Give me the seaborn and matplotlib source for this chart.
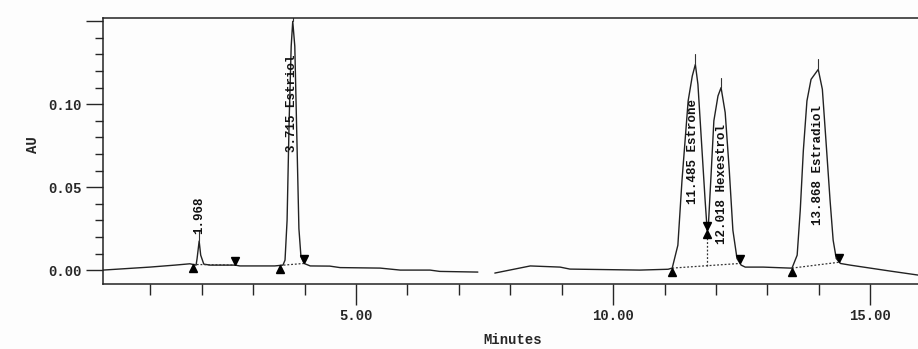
import numpy as np
import pandas as pd
import seaborn as sns
import matplotlib
matplotlib.use("Agg")
import matplotlib.pyplot as plt
from matplotlib.transforms import offset_copy

# trace (minutes, AU); two segments because the trace is broken near 7.5 min
seg1_t = [0.08, 0.99, 1.48, 1.77, 1.89, 1.91, 1.95, 1.98, 2.04, 2.16, 2.65, 2.74, 3.42,
          3.58, 3.62, 3.66, 3.70, 3.74, 3.77, 3.81, 3.85, 3.89, 3.93, 3.99,
          4.11, 4.49, 4.69, 5.47, 5.86, 6.44, 6.63, 7.37]
seg1_au = [0.0, 0.0018, 0.003, 0.0038, 0.003, 0.007, 0.0175, 0.009, 0.0036, 0.003, 0.003, 0.0025, 0.0025,
           0.003, 0.006, 0.03, 0.09, 0.135, 0.150, 0.135, 0.08, 0.025, 0.008, 0.004,
           0.0025, 0.0024, 0.0015, 0.0012, 0.0, 0.0, -0.0008, -0.0012]
seg2_t = [7.70, 8.39, 8.97, 9.16, 10.52, 11.07, 11.15, 11.26, 11.34, 11.46, 11.54, 11.60,
          11.65, 11.73, 11.79, 11.83, 11.85, 11.91, 11.96, 12.04, 12.10, 12.18, 12.26,
          12.33, 12.41, 12.49, 12.57, 12.92, 13.44, 13.48, 13.58, 13.64, 13.70, 13.77,
          13.85, 13.99, 14.07, 14.14, 14.22, 14.28, 14.34, 14.42, 14.61, 15.00, 15.39, 15.93]
seg2_au = [-0.0018, 0.0025, 0.0018, 0.0006, 0.0, 0.0005, 0.0012, 0.015, 0.054, 0.102, 0.117, 0.124,
           0.112, 0.072, 0.042, 0.024, 0.025, 0.060, 0.090, 0.105, 0.110, 0.095, 0.060,
           0.024, 0.007, 0.003, 0.0018, 0.0018, 0.0012, 0.0012, 0.009, 0.036, 0.072, 0.102,
           0.115, 0.121, 0.109, 0.078, 0.042, 0.018, 0.007, 0.004, 0.003, 0.0012, -0.0006, -0.003]

# integration marks
start_marks = [1.83, 3.52, 11.15, 11.83, 13.48]
end_marks = [2.65, 3.99, 11.83, 12.47, 14.40]
baselines = [(1.83, 2.65), (3.52, 3.99), (11.15, 12.47), (13.48, 14.40)]
drop_lines = [11.83]

# peak labels
peak_names = ["1.968", "3.715 Estriol", "11.485 Estrone", "12.018 Hexestrol", "13.868 Estradiol"]
peak_apex_t = [1.95, 3.77, 11.60, 12.10, 13.99]
label_t = [1.95, 3.75, 11.56, 12.11, 13.99]
label_bottom = [0.022, 0.071, 0.040, 0.016, 0.027]

df = pd.DataFrame({
    "Minutes": seg1_t + seg2_t,
    "AU": seg1_au + seg2_au,
    "seg": [1] * len(seg1_t) + [2] * len(seg2_t),
})
all_t = np.array(seg1_t + seg2_t)
all_au = np.array(seg1_au + seg2_au)

sns.set_style("ticks")
plt.rcParams["font.family"] = ["Liberation Mono", "DejaVu Sans Mono"]

fig = plt.figure(figsize=(9.18, 3.49), dpi=100)
fig.patch.set_facecolor("#fdfdfd")

ax = fig.add_axes([0.1122, 0.1862, 0.8878, 0.7622])
ax.patch.set_alpha(0)

sns.lineplot(data=df, x="Minutes", y="AU", units="seg", estimator=None, sort=False,
             color="#222222", lw=1.0, ax=ax)

# baselines and drop lines
base_ends = {}
for a, b in baselines:
    ya, yb = np.interp(a, all_t, all_au), np.interp(b, all_t, all_au)
    base_ends[(a, b)] = (ya, yb)
    ax.plot([a, b], [ya, yb], ls=(0, (1.5, 1.5)), color="#333333", lw=0.9)
for d in drop_lines:
    for (a, b), (ya, yb) in base_ends.items():
        if a < d < b:
            ybase = ya + (yb - ya) * (d - a) / (b - a)
            ax.plot([d, d], [ybase, np.interp(d, all_t, all_au)], ls=(0, (1.5, 1.5)),
                    color="#333333", lw=0.9)

up_tr = offset_copy(ax.transData, fig=fig, y=-4, units="dots")
dn_tr = offset_copy(ax.transData, fig=fig, y=4, units="dots")
ax.plot(start_marks, np.interp(start_marks, all_t, all_au), ls="none", marker="^",
        ms=6, color="black", transform=up_tr)
ax.plot(end_marks, np.interp(end_marks, all_t, all_au), ls="none", marker="v",
        ms=6, color="black", transform=dn_tr)

# leader ticks and labels
for name, ta, tl, yb in zip(peak_names, peak_apex_t, label_t, label_bottom):
    ya = np.interp(ta, all_t, all_au)
    ax.plot([ta, ta], [ya, ya + 0.006], color="#333333", lw=0.8)
    ax.text(tl, yb, name, rotation=90, ha="center", va="bottom", fontsize=9,
            fontweight="bold", color="#111111")

ax.set_xlim(0.08, 15.93)
ax.set_ylim(-0.0084, 0.152)
ax.set_xticks([5, 10, 15])
ax.set_xticklabels(["5.00", "10.00", "15.00"])
ax.set_xticks(np.arange(1, 16), minor=True)
ax.set_yticks([0.0, 0.05, 0.10, 0.15])
ax.set_yticklabels(["0.00", "0.05", "0.10", ""])
ax.set_yticks(np.arange(0.0, 0.151, 0.01), minor=True)
ax.tick_params(axis="x", which="major", length=15, width=1, pad=3, labelsize=10)
ax.tick_params(axis="x", which="minor", length=8, width=1)
ax.tick_params(axis="y", which="major", length=12, width=1, pad=3, labelsize=10)
ax.tick_params(axis="y", which="minor", length=6, width=1)
for lab in ax.get_xticklabels() + ax.get_yticklabels():
    lab.set_fontweight("bold")

for s in ["left", "bottom", "top"]:
    ax.spines[s].set_linewidth(1.1)
    ax.spines[s].set_color("#222222")
ax.spines["right"].set_visible(False)

ax.set_xlabel("")
ax.set_ylabel("")
fig.text(513 / 918, 1 - 340 / 349, "Minutes", ha="center", va="center", fontsize=10, fontweight="bold")
fig.text(33 / 918, 1 - 145 / 349, "AU", ha="center", va="center", rotation=90, fontsize=10, fontweight="bold")

fig.savefig("out.png", dpi=100, facecolor=fig.get_facecolor())
